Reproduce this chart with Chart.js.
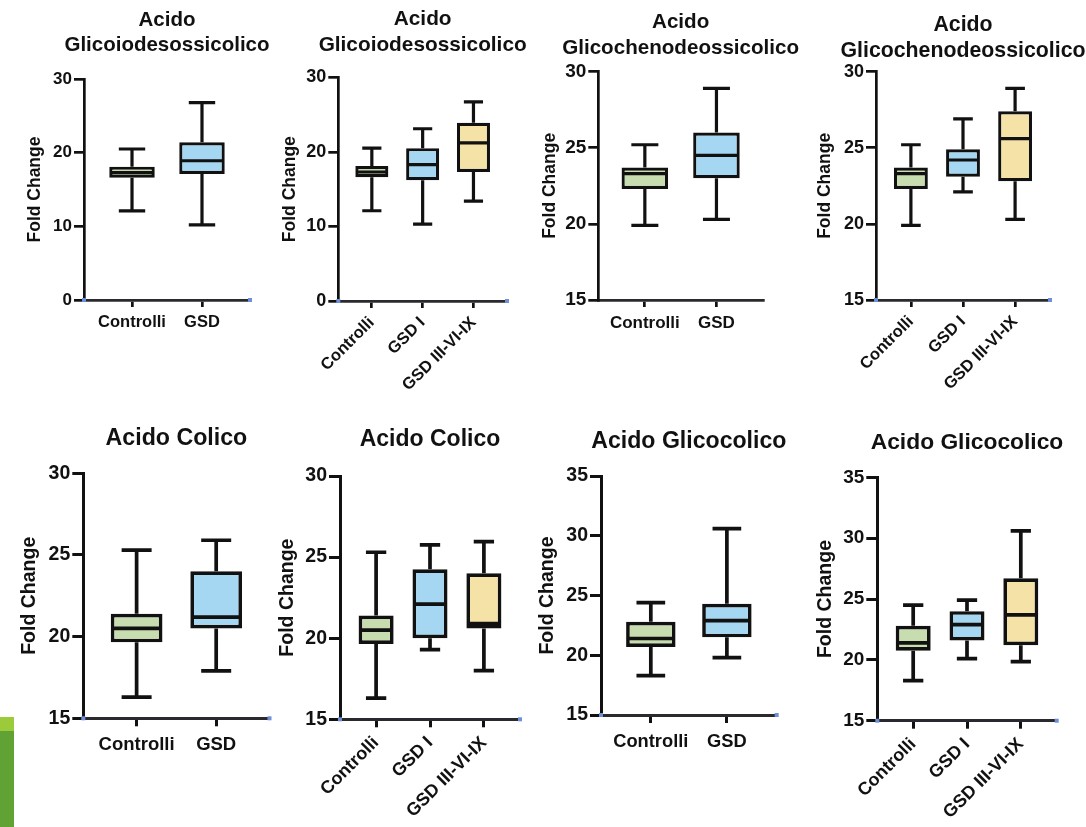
<!DOCTYPE html>
<html><head><meta charset="utf-8">
<script src="https://cdn.jsdelivr.net/npm/chart.js@4.4.1/dist/chart.umd.min.js"></script>
<style>
html,body{margin:0;padding:0;background:#fff;}
body{width:1086px;height:827px;position:relative;overflow:hidden;}
canvas{position:absolute;}
.deco{position:absolute;left:0;width:14px;}
</style></head><body>
<div class="deco" style="top:717px;height:14px;background:#9bcb3b"></div>
<div class="deco" style="top:731px;height:96px;background:#60a334"></div>
<script>
// ---------- DATA ----------
const catsTwo = ['Controlli', 'GSD'];
const catsThree = ['Controlli', 'GSD I', 'GSD III-VI-IX'];
// each entry: [min, Q1, median, Q3, max]
const glicoiodesTwo   = [[12.1, 16.6, 17.3, 18.1, 20.5], [10.2, 17.1, 18.9, 21.4, 26.8]];
const glicoiodesThree = [[12.1, 16.6, 17.3, 18.1, 20.5], [10.3, 16.2, 18.3, 20.5, 23.1], [13.4, 17.3, 21.2, 23.9, 26.7]];
const glicochenoTwo   = [[19.9, 22.3, 23.3, 23.7, 25.2], [20.3, 23.0, 24.5, 26.0, 28.9]];
const glicochenoThree = [[19.9, 22.3, 23.3, 23.7, 25.2], [22.1, 23.1, 24.2, 24.9, 26.9], [20.3, 22.8, 25.6, 27.4, 28.9]];
const colicoTwo       = [[16.3, 19.65, 20.5, 21.4, 25.3], [17.9, 20.5, 21.2, 24.0, 25.9]];
const colicoThree     = [[16.3, 19.65, 20.5, 21.4, 25.3], [19.3, 20.0, 22.1, 24.25, 25.75], [18.0, 20.6, 20.9, 24.0, 25.95]];
const glicocolicoTwo  = [[18.3, 20.7, 21.4, 22.8, 24.4], [19.8, 21.5, 22.9, 24.3, 30.6]];
const glicocolicoThree= [[18.3, 20.75, 21.4, 22.8, 24.5], [20.1, 21.6, 22.9, 24.0, 24.9], [19.85, 21.2, 23.7, 26.7, 30.6]];
const titleGlicoiodes = ['Acido', 'Glicoiodesossicolico'];
const titleGlicocheno = ['Acido', 'Glicochenodeossicolico'];
const titleColico = ['Acido Colico'];
const titleGlicocolico = ['Acido Glicocolico'];
const yLabel = 'Fold Change';
const yRangeA = [0, 30, 10];
const yRangeB = [15, 30, 5];
const yRangeC = [15, 35, 5];

// ---------- STYLE / LAYOUT ----------
const FAMILY = "'Liberation Sans', Arial, Helvetica, sans-serif";
const boxColors = ['#c7ddb0', '#a6d7f2', '#f5e2a6'];
const rowTop = {tickLen: 10, tickPad: 2, lw: 3.2, axisW: 2.7, xTickLen: 7};
const rowBot = {tickLen: 11, tickPad: 2, lw: 3.7, axisW: 3, xTickLen: 8};
const panels = [
  {stats: glicoiodesTwo, cats: catsTwo, title: titleGlicoiodes, yr: yRangeA, top: 0, bottom: 400, row: rowTop,
   foldX: 35.5, axisX: 84, axisEnd: 250, yTop: 79, yBottom: 300, line1Y: 20, lineH: 25,
   tFont: 20.5, tickFont: 17, foldFont: 17.5, xFont: 16.5, xmin: 0.314, xmax: 2.686, rot: 0, xPad: 5.5, dots: true},
  {stats: glicoiodesThree, cats: catsThree, title: titleGlicoiodes, yr: yRangeA, top: 0, bottom: 400, row: rowTop,
   foldX: 290.8, axisX: 338.3, axisEnd: 507, yTop: 77.3, yBottom: 301, line1Y: 19.2, lineH: 26,
   tFont: 20.8, tickFont: 18, foldFont: 17.5, xFont: 16.5, xmin: 0.34, xmax: 3.66, rot: 45, xPad: 5, dots: true},
  {stats: glicochenoTwo, cats: catsTwo, title: titleGlicocheno, yr: yRangeB, top: 0, bottom: 400, row: rowTop,
   foldX: 550, axisX: 598.3, axisEnd: 763, yTop: 71.7, yBottom: 300, line1Y: 22.3, lineH: 26,
   tFont: 20.6, tickFont: 19, foldFont: 17.5, xFont: 17, xmin: 0.35, xmax: 2.65, rot: 0, xPad: 6.5, dots: false},
  {stats: glicochenoThree, cats: catsThree, title: titleGlicocheno, yr: yRangeB, top: 0, bottom: 400, row: rowTop,
   foldX: 825.8, axisX: 876, axisEnd: 1050, yTop: 71.7, yBottom: 300, line1Y: 24.8, lineH: 26,
   tFont: 21.3, tickFont: 18, foldFont: 17.5, xFont: 16.5, xmin: 0.33, xmax: 3.67, rot: 45, xPad: 5, dots: true},
  {stats: colicoTwo, cats: catsTwo, title: titleColico, yr: yRangeB, top: 400, bottom: 827, row: rowBot,
   foldX: 29.2, axisX: 83.3, axisEnd: 269.5, yTop: 473.3, yBottom: 718.3, line1Y: 438.5, lineH: 25,
   tFont: 23.2, tickFont: 19.5, foldFont: 19.5, xFont: 18.5, xmin: 0.33, xmax: 2.67, rot: 0, xPad: 7.5, dots: true},
  {stats: colicoThree, cats: catsThree, title: titleColico, yr: yRangeB, top: 400, bottom: 827, row: rowBot,
   foldX: 287.5, axisX: 340, axisEnd: 520, yTop: 476, yBottom: 719.3, line1Y: 440, lineH: 25,
   tFont: 23, tickFont: 19.5, foldFont: 19.5, xFont: 18, xmin: 0.33, xmax: 3.67, rot: 45, xPad: 5, dots: true},
  {stats: glicocolicoTwo, cats: catsTwo, title: titleGlicocolico, yr: yRangeC, top: 400, bottom: 827, row: rowBot,
   foldX: 548, axisX: 601, axisEnd: 776.7, yTop: 476, yBottom: 715, line1Y: 441.5, lineH: 25,
   tFont: 23.1, tickFont: 19.5, foldFont: 19.5, xFont: 18.3, xmin: 0.345, xmax: 2.655, rot: 0, xPad: 8, dots: true},
  {stats: glicocolicoThree, cats: catsThree, title: titleGlicocolico, yr: yRangeC, top: 400, bottom: 827, row: rowBot,
   foldX: 825.8, axisX: 877.3, axisEnd: 1056.7, yTop: 477.3, yBottom: 720.7, line1Y: 443.2, lineH: 25,
   tFont: 22.8, tickFont: 19, foldFont: 19.5, xFont: 18, xmin: 0.333, xmax: 3.667, rot: 45, xPad: 5, dots: true}
];

// whiskers + median drawn through the chart's y scale, box = floating bar
const boxPlugin = {
  id: 'boxWhiskers',
  afterDatasetsDraw(chart, args, opts) {
    const ctx = chart.ctx, ys = chart.scales.y;
    const meta = chart.getDatasetMeta(0);
    const stats = chart.data.datasets[0].stats;
    ctx.save();
    ctx.strokeStyle = '#111';
    ctx.lineWidth = opts.lw;
    ctx.lineCap = 'butt';
    meta.data.forEach((bar, i) => {
      const s = stats[i];
      const {x, width} = bar.getProps(['x', 'width'], true);
      const half = width / 2, cap = width * 0.29;
      const pMin = ys.getPixelForValue(s[0]), pQ1 = ys.getPixelForValue(s[1]);
      const pMed = ys.getPixelForValue(s[2]), pQ3 = ys.getPixelForValue(s[3]);
      const pMax = ys.getPixelForValue(s[4]);
      ctx.beginPath();
      ctx.moveTo(x, pQ3); ctx.lineTo(x, pMax);
      ctx.moveTo(x - cap, pMax); ctx.lineTo(x + cap, pMax);
      ctx.moveTo(x, pQ1); ctx.lineTo(x, pMin);
      ctx.moveTo(x - cap, pMin); ctx.lineTo(x + cap, pMin);
      ctx.moveTo(x - half + 1, pMed); ctx.lineTo(x + half - 1, pMed);
      ctx.stroke();
    });
    ctx.restore();
  },
  afterDraw(chart, args, opts) {
    const ctx = chart.ctx, a = chart.chartArea;
    ctx.save();
    // panel title, centred over the plot area
    ctx.fillStyle = '#111';
    ctx.font = 'bold ' + opts.tFont + 'px ' + FAMILY;
    ctx.textAlign = 'center';
    ctx.textBaseline = 'middle';
    const cx = (a.left + a.right) / 2;
    opts.title.forEach((line, i) => ctx.fillText(line, cx, opts.line1 + i * opts.lineH));
    if (opts.dots) {
      ctx.fillStyle = '#6f90d8';
      ctx.fillRect(a.left - 2, a.bottom - 2, 4, 4);
      ctx.fillRect(a.right - 2, a.bottom - 2, 4, 4);
    }
    ctx.restore();
  }
};

function makePanel(p) {
  const cv = document.createElement('canvas');
  const L = Math.round(p.foldX - p.foldFont * 1.2 / 2);
  const W = Math.min(1086 - L, Math.round(p.axisEnd + 70 - L));
  const H = p.bottom - p.top;
  cv.width = W; cv.height = H;
  cv.style.left = L + 'px'; cv.style.top = p.top + 'px';
  cv.style.width = W + 'px'; cv.style.height = H + 'px';
  document.body.appendChild(cv);
  const padR = L + W - p.axisEnd;
  const cats = p.cats;
  const r = p.row;
  new Chart(cv, {
    type: 'bar',
    data: {
      datasets: [{
        data: p.stats.map((s, i) => ({x: i + 1, y: [s[1], s[3]]})),
        stats: p.stats,
        backgroundColor: boxColors.slice(0, cats.length),
        borderColor: '#111',
        borderWidth: r.lw,
        borderSkipped: false,
        borderRadius: 0,
        categoryPercentage: 1,
        barPercentage: 0.65
      }]
    },
    options: {
      responsive: false, animation: false, devicePixelRatio: 1,
      events: [],
      layout: {padding: {left: 0, right: padR, top: p.yTop - p.top, bottom: 0}},
      plugins: {
        legend: {display: false},
        tooltip: {enabled: false},
        title: {display: false},
        boxWhiskers: {dots: p.dots, title: p.title, tFont: p.tFont, lineH: p.lineH, line1: p.line1Y - p.top, lw: r.lw}
      },
      scales: {
        x: {
          type: 'linear', offset: false, min: p.xmin, max: p.xmax,
          afterBuildTicks: s => { s.ticks = cats.map((c, i) => ({value: i + 1})); },
          afterFit: s => { s.height = p.bottom - p.yBottom; },
          grid: {display: true, offset: false, drawOnChartArea: false, drawTicks: true, tickLength: r.xTickLen, tickColor: '#111', lineWidth: r.axisW},
          border: {display: true, color: '#2a2a2e', width: r.axisW},
          ticks: {autoSkip: false, maxRotation: p.rot, minRotation: p.rot, padding: p.xPad, color: '#111',
            font: {family: FAMILY, size: p.xFont, weight: 'bold'},
            callback: v => cats[Math.round(v) - 1] || ''}
        },
        y: {
          min: p.yr[0], max: p.yr[1],
          afterFit: s => { s.width = p.axisX - L; },
          grid: {drawOnChartArea: false, drawTicks: true, tickLength: r.tickLen, tickColor: '#111', lineWidth: r.axisW},
          border: {display: true, color: '#111', width: r.axisW},
          ticks: {stepSize: p.yr[2], padding: r.tickPad, color: '#111', font: {family: FAMILY, size: p.tickFont, weight: 'bold'}},
          title: {display: true, text: yLabel, color: '#111', padding: 0,
            font: {family: FAMILY, size: p.foldFont, weight: 'bold', lineHeight: 1.2}}
        }
      }
    },
    plugins: [boxPlugin]
  });
}
panels.forEach(makePanel);
</script>
</body></html>
